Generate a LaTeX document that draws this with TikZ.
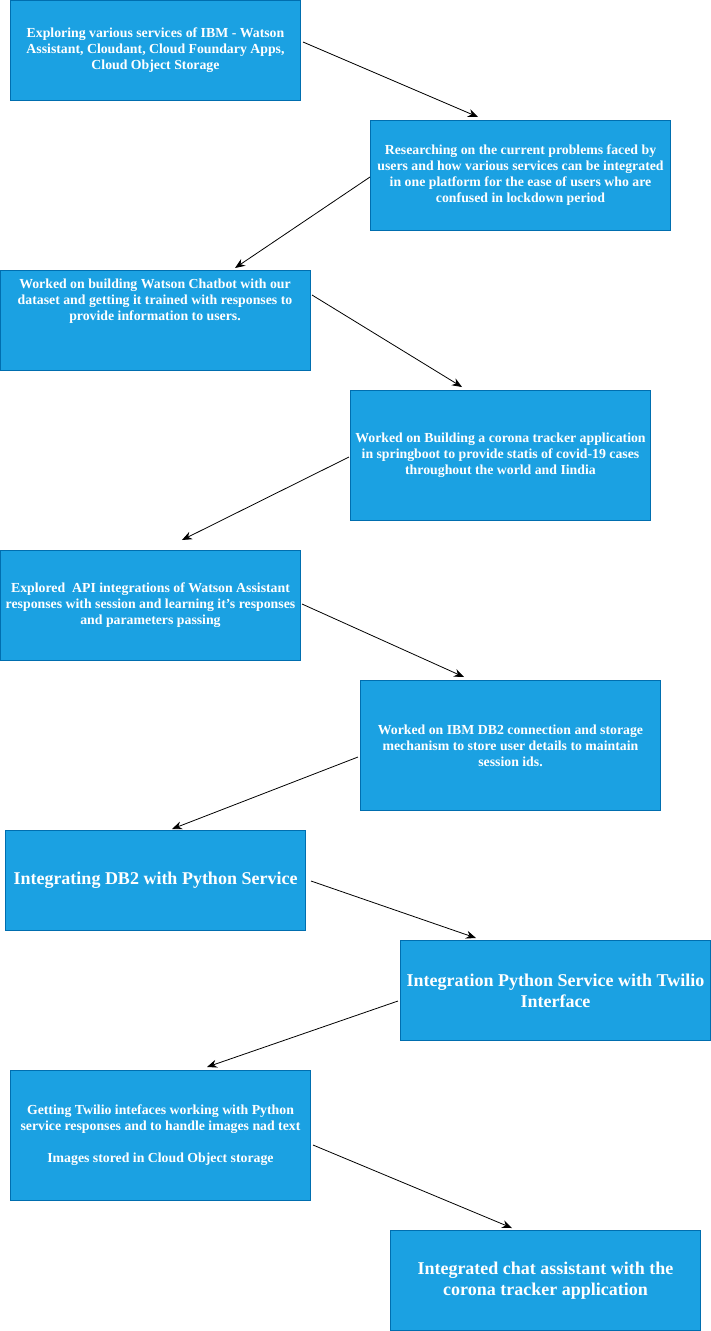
\documentclass[tikz,border=0pt]{standalone}
\usepackage{fontspec}
\setmainfont{Liberation Serif}
\usetikzlibrary{arrows.meta}
\definecolor{boxfill}{HTML}{1BA1E2}
\definecolor{boxline}{HTML}{006EAF}
\tikzset{
  box/.style={draw=boxline, fill=boxfill, line width=1pt, inner sep=0pt, anchor=north west},
  smalltxt/.style={text=white, align=center, inner sep=0pt, font=\fontsize{13.8}{16}\selectfont\bfseries},
  bigtxt/.style={text=white, align=center, inner sep=0pt, font=\fontsize{18}{21}\selectfont\bfseries},
  flow/.style={draw=black, line width=0.8pt, -{Stealth[length=10pt,width=8pt]}}
}
\begin{document}
\begin{tikzpicture}[x=1pt,y=-1pt]
\useasboundingbox (0,0) rectangle (711,1331);
% boxes
\node[box, minimum width=290pt, minimum height=100pt] (b1) at (10,0) {};
\node[box, minimum width=300pt, minimum height=110pt] (b2) at (370,120) {};
\node[box, minimum width=310pt, minimum height=100pt] (b3) at (0,270) {};
\node[box, minimum width=300pt, minimum height=130pt] (b4) at (350,390) {};
\node[box, minimum width=300pt, minimum height=110pt] (b5) at (0,550) {};
\node[box, minimum width=300pt, minimum height=130pt] (b6) at (360,680) {};
\node[box, minimum width=300pt, minimum height=100pt] (b7) at (5,830) {};
\node[box, minimum width=310pt, minimum height=100pt] (b8) at (400,940) {};
\node[box, minimum width=300pt, minimum height=130pt] (b9) at (10,1070) {};
\node[box, minimum width=310pt, minimum height=100pt] (b10) at (390,1230) {};
% texts
\node[smalltxt] (t1) at (b1.center) {Exploring various services of IBM - Watson\\Assistant, Cloudant, Cloud Foundary Apps,\\Cloud Object Storage};
\node[smalltxt] (t2) at (b2.center) {Researching on the current problems faced by\\users and how various services can be integrated\\in one platform for the ease of users who are\\confused in lockdown period};
\node[smalltxt] (t3) at (155,301) {Worked on building Watson Chatbot with our\\dataset and getting it trained with responses to\\provide information to users.};
\node[smalltxt] (t4) at (b4.center) {Worked on Building a corona tracker application\\in springboot to provide statis of covid-19 cases\\throughout the world and Iindia};
\node[smalltxt] (t5) at (b5.center) {Explored\ \ API integrations of Watson Assistant\\responses with session and learning it's responses\\and parameters passing};
\node[smalltxt] (t6) at (b6.center) {Worked on IBM DB2 connection and storage\\mechanism to store user details to maintain\\session ids.};
\node[bigtxt] (t7) at (b7.center) {Integrating DB2 with Python Service};
\node[bigtxt] (t8) at (b8.center) {Integration Python Service with Twilio\\Interface};
\node[smalltxt] (t9) at (b9.center) {Getting Twilio intefaces working with Python\\service responses and to handle images nad text\\[16pt]Images stored in Cloud Object storage};
\node[bigtxt] (t10) at (b10.center) {Integrated chat assistant with the\\corona tracker application};
% connector ends
\coordinate (s1) at (303,42);   \coordinate (e1) at (478,117);
\coordinate (s2) at (370,177);  \coordinate (e2) at (235,268);
\coordinate (s3) at (312,295);  \coordinate (e3) at (462,387);
\coordinate (s4) at (349,457);  \coordinate (e4) at (182,540);
\coordinate (s5) at (302,604);  \coordinate (e5) at (464,677);
\coordinate (s6) at (358,757);  \coordinate (e6) at (172,829);
\coordinate (s7) at (311,881);  \coordinate (e7) at (476,938);
\coordinate (s8) at (398,1001); \coordinate (e8) at (207,1067);
\coordinate (s9) at (313,1145); \coordinate (e9) at (512,1228);
\draw[flow] (s1) -- (e1);
\draw[flow] (s2) -- (e2);
\draw[flow] (s3) -- (e3);
\draw[flow] (s4) -- (e4);
\draw[flow] (s5) -- (e5);
\draw[flow] (s6) -- (e6);
\draw[flow] (s7) -- (e7);
\draw[flow] (s8) -- (e8);
\draw[flow] (s9) -- (e9);
\end{tikzpicture}
\end{document}
